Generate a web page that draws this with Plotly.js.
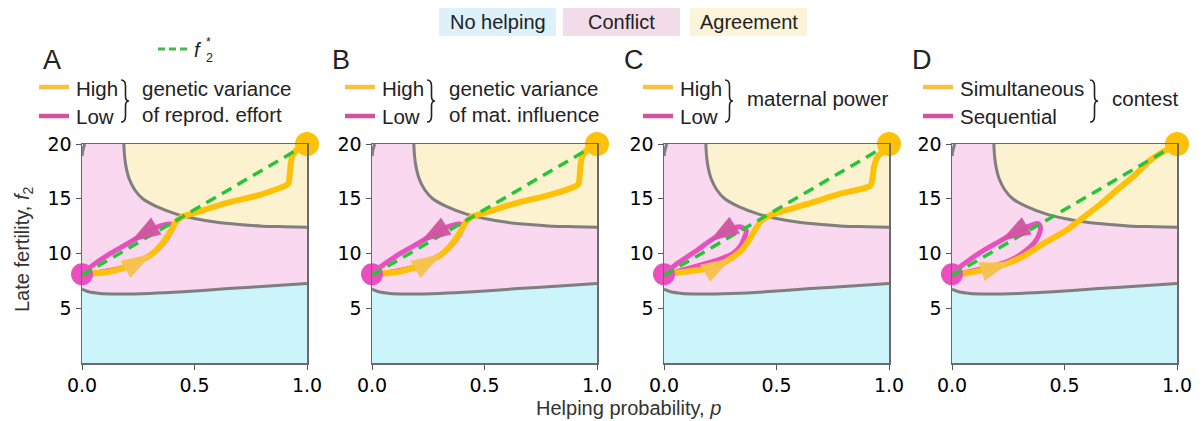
<!DOCTYPE html>
<html>
<head>
<meta charset="utf-8">
<script src="https://cdn.plot.ly/plotly-3.0.1.min.js"></script>
<style>html,body{margin:0;padding:0;background:#fff;}#chart{width:1202px;height:421px;}</style>
</head>
<body>
<div id="chart"></div>
<script>
// ---------------- data ----------------
const panelLetters = ['A', 'B', 'C', 'D'];
const regionLabels = ['No helping', 'Conflict', 'Agreement'];
const xTickVals = [0, 0.5, 1];
const xTickText = ['0.0', '0.5', '1.0'];
const yTickVals = [5, 10, 15, 20];
const yTickText = ['5', '10', '15', '20'];
const xTitle = 'Helping probability, <i>p</i>';
const yTitle = 'Late fertility, <i>f</i><sub>2</sub>';

// boundaries of regions (p, f2)
const upperP = [0.186, 0.188, 0.195, 0.21, 0.235, 0.27, 0.33, 0.42, 0.5, 0.6, 0.7, 0.8, 0.9, 1.0];
const upperF = [20, 19.2, 18.0, 16.8, 15.8, 15.0, 14.3, 13.6, 13.2, 12.85, 12.65, 12.5, 12.45, 12.4];
const lowerP = [0, 0.03, 0.08, 0.15, 0.3, 0.45, 0.65, 0.85, 1.0];
const lowerF = [6.75, 6.5, 6.35, 6.3, 6.35, 6.5, 6.8, 7.05, 7.25];
const cornerP = [0, 0.005, 0.012];
const cornerF = [18.9, 19.5, 20];

// optimal late fertility line f2*
const fStarP = [0, 1];
const fStarF = [8, 20];

// start and end states
const startP = [0], startF = [8.1];
const endP = [1], endF = [20];

// trajectories: High (orange) and Low (magenta) per panel
const highA_P = [0, 0.02, 0.12, 0.2, 0.26, 0.31, 0.36, 0.39, 0.415, 0.44, 0.5, 0.64, 0.79, 0.9, 0.918, 0.926, 0.933, 0.955, 1];
const highA_F = [8.1, 8.12, 8.33, 8.8, 9.35, 9.95, 11.0, 11.9, 12.8, 13.3, 13.7, 14.6, 15.35, 16.15, 16.4, 17.9, 18.8, 19.5, 20];
const lowA_P = [0, 0.1, 0.2, 0.27, 0.32, 0.36, 0.39, 0.405, 0.39, 0.33, 0.27, 0.215, 0.13, 0.06, 0];
const lowA_F = [8.1, 8.35, 8.85, 9.5, 10.1, 10.9, 11.8, 12.5, 12.7, 12.4, 11.75, 11.05, 10.05, 9.1, 8.1];

const highB_P = [0, 0.02, 0.12, 0.2, 0.26, 0.31, 0.36, 0.39, 0.415, 0.44, 0.5, 0.64, 0.79, 0.9, 0.918, 0.926, 0.933, 0.955, 1];
const highB_F = [8.1, 8.12, 8.33, 8.8, 9.35, 9.95, 11.0, 11.9, 12.8, 13.3, 13.7, 14.6, 15.35, 16.1, 16.35, 17.9, 18.8, 19.5, 20];
const lowB_P = [0, 0.1, 0.2, 0.27, 0.32, 0.36, 0.39, 0.405, 0.39, 0.33, 0.27, 0.215, 0.13, 0.06, 0];
const lowB_F = [8.1, 8.35, 8.85, 9.5, 10.1, 10.9, 11.8, 12.5, 12.7, 12.4, 11.75, 11.05, 10.05, 9.1, 8.1];

const highC_P = [0, 0.037, 0.187, 0.25, 0.3, 0.345, 0.38, 0.403, 0.433, 0.485, 0.634, 0.78, 0.918, 0.933, 0.948, 0.975, 1];
const highC_F = [8.1, 8.2, 8.6, 9.0, 9.6, 10.3, 11.3, 12.1, 13.0, 13.6, 14.5, 15.45, 16.2, 17.9, 18.8, 19.4, 20];
const lowC_P = [0, 0.1, 0.187, 0.25, 0.306, 0.34, 0.358, 0.366, 0.336, 0.29, 0.25, 0.2, 0.14, 0.06, 0];
const lowC_F = [8.1, 8.6, 9.1, 9.5, 10.0, 10.7, 11.5, 12.1, 12.45, 12.2, 11.75, 11.1, 10.2, 9.1, 8.1];

const highD_P = [0, 0.064, 0.15, 0.2, 0.26, 0.33, 0.406, 0.5, 0.584, 0.66, 0.733, 0.81, 0.88, 0.955, 1];
const highD_F = [8.1, 8.2, 8.55, 8.8, 9.2, 9.9, 10.9, 12.0, 13.3, 14.5, 15.8, 17.1, 18.5, 19.5, 20];
const lowD_P = [0, 0.1, 0.2, 0.28, 0.33, 0.37, 0.39, 0.392, 0.38, 0.33, 0.27, 0.215, 0.15, 0.07, 0];
const lowD_F = [8.1, 8.45, 8.95, 9.6, 10.3, 11.1, 11.9, 12.5, 12.75, 12.4, 11.8, 11.15, 10.4, 9.3, 8.1];

// index of path point carrying the direction arrow (arrow tip)
const highArrowIdx = [5, 5, 4, 4];
const lowArrowIdx = [11, 11, 11, 11];

const legendHigh = ['High', 'High', 'High', 'Simultaneous'];
const legendLow = ['Low', 'Low', 'Low', 'Sequential'];
const legendGroup = [['genetic variance', 'of reprod. effort'], ['genetic variance', 'of mat. influence'], ['maternal power'], ['contest']];

// ---------------- styling ----------------
const W = 1202, H = 421;
const X = v => v / W, Y = v => 1 - v / H;
const COL = {
  blue: '#cbf4fb', pink: '#fad9f0', yellow: '#fdf2cf', gray: '#7f7f7f',
  orange: '#ffc107', magenta: '#ea4fbf', green: '#27c43a',
  orangeArrow: '#f6c24f', magentaArrow: '#d0559f',
  legOrange: '#f8c144', legMagenta: '#d4519f'
};
const plotLeft = [82, 372, 664, 952];
const plotW = 225;
const plotTop = 144, plotBottom = 363;
const legLineX = [39, 345, 643, 923];
const legTextX = [74, 380, 678, 958];
const braceX = [121, 427, 725, 1090];
const groupX = [140, 447, 745, 1110];
const letterX = [52, 341, 634, 922];

const highP = [highA_P, highB_P, highC_P, highD_P];
const highF = [highA_F, highB_F, highC_F, highD_F];
const lowP = [lowA_P, lowB_P, lowC_P, lowD_P];
const lowF = [lowA_F, lowB_F, lowC_F, lowD_F];

const traces = [];
const layout = {
  width: W, height: H, margin: {l: 0, r: 0, t: 0, b: 0},
  paper_bgcolor: '#fff', plot_bgcolor: COL.pink, showlegend: false,
  font: {family: 'Liberation Sans, Arial, sans-serif', color: '#222'},
  shapes: [], annotations: []
};

function bracePath(bx) {
  const t = 80, m = 101, b = 122, w = 4.5, tip = 8;
  const P = (x, y) => X(x).toFixed(5) + ',' + Y(y).toFixed(5);
  return 'M' + P(bx, t) + ' Q' + P(bx + w, t) + ' ' + P(bx + w, t + 6) +
    ' L' + P(bx + w, m - 5) + ' Q' + P(bx + w, m) + ' ' + P(bx + tip, m) +
    ' Q' + P(bx + w, m) + ' ' + P(bx + w, m + 5) +
    ' L' + P(bx + w, b - 6) + ' Q' + P(bx + w, b) + ' ' + P(bx, b);
}

for (let i = 0; i < 4; i++) {
  const s = i === 0 ? '' : String(i + 1);
  const xa = 'x' + s, ya = 'y' + s;
  layout['xaxis' + s] = {
    domain: [X(plotLeft[i]), X(plotLeft[i] + plotW)], anchor: ya, range: [0, 1],
    tickvals: xTickVals, ticktext: xTickText, ticks: 'outside', ticklen: 5, tickcolor: '#555',
    tickfont: {family: 'DejaVu Sans', size: 19, color: '#000'},
    showgrid: false, zeroline: false, showline: true, mirror: true, linecolor: '#6a6a6a', linewidth: 1.5
  };
  layout['yaxis' + s] = {
    domain: [Y(plotBottom), Y(plotTop)], anchor: xa, range: [0, 20],
    tickvals: yTickVals, ticktext: yTickText, ticks: 'outside', ticklen: 5, tickcolor: '#555',
    tickfont: {family: 'DejaVu Sans', size: 19, color: '#000'},
    showgrid: false, zeroline: false, showline: true, mirror: true, linecolor: '#6a6a6a', linewidth: 1.5
  };
  // agreement region
  traces.push({x: upperP.concat([1, upperP[0]]), y: upperF.concat([20, 20]), xaxis: xa, yaxis: ya,
    mode: 'lines', fill: 'toself', fillcolor: COL.yellow, line: {width: 0}, hoverinfo: 'skip'});
  // no helping region
  traces.push({x: lowerP.concat([1, 0]), y: lowerF.concat([0, 0]), xaxis: xa, yaxis: ya,
    mode: 'lines', fill: 'toself', fillcolor: COL.blue, line: {width: 0}, hoverinfo: 'skip'});
  // boundaries
  [[upperP, upperF], [lowerP, lowerF], [cornerP, cornerF]].forEach(([bx, by]) => {
    traces.push({x: bx, y: by, xaxis: xa, yaxis: ya, mode: 'lines',
      line: {color: COL.gray, width: 3, shape: 'spline', smoothing: 0.6}, hoverinfo: 'skip'});
  });
  // low trajectory
  traces.push({x: lowP[i], y: lowF[i], xaxis: xa, yaxis: ya, mode: 'lines',
    line: {color: COL.magenta, width: 5, shape: 'spline', smoothing: 0.7}, hoverinfo: 'skip'});
  // high trajectory
  traces.push({x: highP[i], y: highF[i], xaxis: xa, yaxis: ya, mode: 'lines',
    line: {color: COL.orange, width: 6, shape: 'spline', smoothing: 0.5}, hoverinfo: 'skip'});
  // start circle
  traces.push({x: startP, y: startF, xaxis: xa, yaxis: ya, mode: 'markers', cliponaxis: false,
    marker: {color: COL.magenta, size: 22, line: {width: 0}}, hoverinfo: 'skip'});
  // f2* dashed
  traces.push({x: fStarP, y: fStarF, xaxis: xa, yaxis: ya, mode: 'lines', cliponaxis: false,
    line: {color: COL.green, width: 3.5, dash: '11px,7px'}, hoverinfo: 'skip'});
  // arrows
  const hi = highArrowIdx[i], lo = lowArrowIdx[i];
  traces.push({x: [highP[i][hi - 1], highP[i][hi]], y: [highF[i][hi - 1], highF[i][hi]], xaxis: xa, yaxis: ya,
    mode: 'markers', marker: {symbol: 'arrow', angleref: 'previous', size: [0, 32], color: COL.orangeArrow, opacity: 0.95, line: {width: 0}}, hoverinfo: 'skip'});
  traces.push({x: [lowP[i][lo - 1], lowP[i][lo]], y: [lowF[i][lo - 1], lowF[i][lo]], xaxis: xa, yaxis: ya,
    mode: 'markers', marker: {symbol: 'arrow', angleref: 'previous', size: [0, 32], color: COL.magentaArrow, opacity: 0.95, line: {width: 0}}, hoverinfo: 'skip'});
  // end circle
  traces.push({x: endP, y: endF, xaxis: xa, yaxis: ya, mode: 'markers', cliponaxis: false,
    marker: {color: COL.orange, size: 24, line: {width: 0}}, hoverinfo: 'skip'});

  // panel letter
  layout.annotations.push({xref: 'paper', yref: 'paper', x: X(letterX[i]), y: Y(60), text: panelLetters[i],
    showarrow: false, xanchor: 'center', yanchor: 'middle', font: {size: 27, color: '#222'}});
  // legend lines
  layout.shapes.push({type: 'line', xref: 'paper', yref: 'paper', x0: X(legLineX[i]), x1: X(legLineX[i] + 30),
    y0: Y(87), y1: Y(87), line: {color: COL.legOrange, width: 4.5}});
  layout.shapes.push({type: 'line', xref: 'paper', yref: 'paper', x0: X(legLineX[i]), x1: X(legLineX[i] + 30),
    y0: Y(116), y1: Y(116), line: {color: COL.legMagenta, width: 4.5}});
  layout.annotations.push({xref: 'paper', yref: 'paper', x: X(legTextX[i]), y: Y(88), text: legendHigh[i],
    showarrow: false, xanchor: 'left', yanchor: 'middle', font: {size: 20.5}});
  layout.annotations.push({xref: 'paper', yref: 'paper', x: X(legTextX[i]), y: Y(116), text: legendLow[i],
    showarrow: false, xanchor: 'left', yanchor: 'middle', font: {size: 20.5}});
  // brace
  layout.shapes.push({type: 'path', xref: 'paper', yref: 'paper', path: bracePath(braceX[i]),
    line: {color: '#222', width: 1.6}});
  const g = legendGroup[i];
  if (g.length === 2) {
    layout.annotations.push({xref: 'paper', yref: 'paper', x: X(groupX[i]), y: Y(88), text: g[0],
      showarrow: false, xanchor: 'left', yanchor: 'middle', font: {size: 20.5}});
    layout.annotations.push({xref: 'paper', yref: 'paper', x: X(groupX[i]), y: Y(114), text: g[1],
      showarrow: false, xanchor: 'left', yanchor: 'middle', font: {size: 20.5}});
  } else {
    layout.annotations.push({xref: 'paper', yref: 'paper', x: X(groupX[i]), y: Y(98), text: g[0],
      showarrow: false, xanchor: 'left', yanchor: 'middle', font: {size: 20.5}});
  }
}

// top region legend
const boxX = [439, 563, 690];
const boxFill = ['#dcf1fa', '#f3dcea', '#fcf4d9'];
regionLabels.forEach((lab, k) => {
  layout.shapes.push({type: 'rect', xref: 'paper', yref: 'paper', x0: X(boxX[k]), x1: X(boxX[k] + 117),
    y0: Y(36), y1: Y(8), fillcolor: boxFill[k], line: {width: 0}, layer: 'below'});
  layout.annotations.push({xref: 'paper', yref: 'paper', x: X(boxX[k] + 58.5), y: Y(22), text: lab,
    showarrow: false, xanchor: 'center', yanchor: 'middle', font: {size: 20}});
});

// f2* legend
layout.shapes.push({type: 'line', xref: 'paper', yref: 'paper', x0: X(158), x1: X(188), y0: Y(49), y1: Y(49),
  line: {color: '#45b94a', width: 3, dash: '7px,4px'}});
layout.annotations.push({xref: 'paper', yref: 'paper', x: X(204), y: Y(50), text: '<i>f</i>',
  showarrow: false, xanchor: 'right', yanchor: 'middle', font: {size: 20}});
layout.annotations.push({xref: 'paper', yref: 'paper', x: X(204), y: Y(50), text: '*<br>2',
  showarrow: false, xanchor: 'left', yanchor: 'middle', align: 'left', font: {size: 12.5}});

// axis titles
layout.annotations.push({xref: 'paper', yref: 'paper', x: X(628), y: Y(408), text: xTitle,
  showarrow: false, xanchor: 'center', yanchor: 'middle', font: {size: 20, color: '#333'}});
layout.annotations.push({xref: 'paper', yref: 'paper', x: X(23), y: Y(250), text: yTitle, textangle: -90,
  showarrow: false, xanchor: 'center', yanchor: 'middle', font: {size: 20, color: '#333'}});

Plotly.newPlot('chart', traces, layout, {displayModeBar: false, staticPlot: true});
</script>
</body>
</html>
